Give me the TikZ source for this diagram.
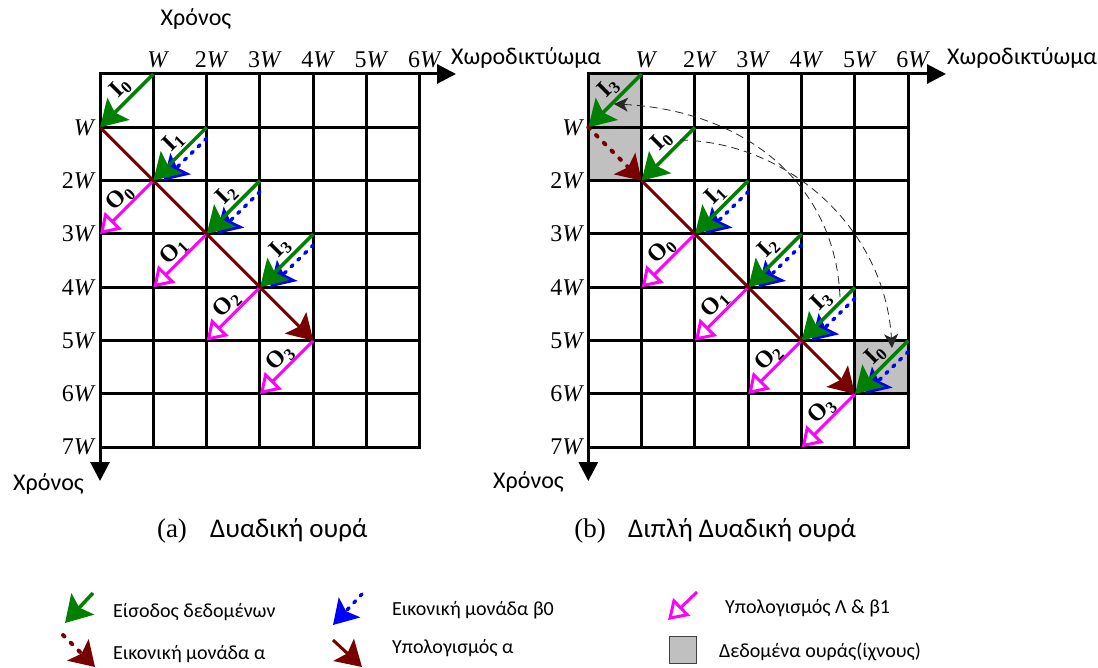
\documentclass[tikz,border=0pt]{standalone}
\usepackage{fontspec}
\setmainfont{Liberation Serif}
\newfontfamily\grfont{Carlito}
\usetikzlibrary{arrows.meta}

\definecolor{ingreen}{RGB}{0,128,0}
\definecolor{maroonA}{RGB}{122,0,0}
\definecolor{magentaO}{RGB}{255,0,255}
\definecolor{blueB}{RGB}{0,0,255}
\definecolor{tailgray}{RGB}{192,192,192}

% multiples of W on the axes
\newcommand\wlab[1]{\ifnum#1=1 \else#1\fi\textit{W}}

\tikzset{
  gridline/.style={line width=3pt, line cap=rect},
  axisline/.style={line width=3pt, line join=miter,
    {Triangle[length=19pt,width=19pt]}-{Triangle[length=19pt,width=19pt]}},
  inarrow/.style={ingreen, line width=3.5pt,
    -{Stealth[length=26pt,width=31pt,inset=5pt]}},
  dummyb/.style={blueB, line width=3.5pt, line cap=round, dash pattern=on 2.5pt off 7pt,
    -{Stealth[length=24pt,width=29pt,inset=5pt]}},
  dummya/.style={maroonA, line width=4pt, line cap=round, dash pattern=on 2pt off 9pt,
    -{Stealth[length=24pt,width=30pt,inset=5pt]}},
  comparrow/.style={maroonA, line width=3pt,
    -{Stealth[length=25pt,width=30pt,inset=5pt]}},
  outarrow/.style={magentaO, line width=3pt,
    -{Triangle[open,length=19pt,width=24pt]}},
  trace/.style={black!85, line width=0.8pt, dash pattern=on 8pt off 5pt,
    -{Stealth[length=14pt,width=14pt,inset=4pt]}},
  axlab/.style={inner sep=0pt, font=\fontsize{24}{24}\selectfont},
  axtitle/.style={inner sep=0pt, font=\grfont\fontsize{24}{24}\selectfont},
  arrlab/.style={inner sep=0pt, rotate=45, font=\fontsize{24}{24}\selectfont\bfseries},
  legtext/.style={inner sep=0pt, anchor=base west, font=\grfont\fontsize{20}{20}\selectfont},
  captl/.style={inner sep=0pt, anchor=base, font=\fontsize{27}{27}\selectfont},
  capt/.style={inner sep=0pt, anchor=base west, font=\grfont\fontsize{27}{27}\selectfont},
}

\begin{document}
\begin{tikzpicture}[x=1pt,y=-1pt]
\useasboundingbox[fill=white] (0,0) rectangle (1098,668);

% lattice points of both grids
\foreach \i in {0,...,6} \foreach \j in {0,...,7} {
  \coordinate (A-\i-\j) at ({100+53.33*\i},{74+53.33*\j});
  \coordinate (B-\i-\j) at ({588.3+53.33*\i},{74+53.33*\j});
}
\coordinate (A-xend) at (456,74);
\coordinate (A-yend) at (100,481);
\coordinate (B-xend) at (946,74);
\coordinate (B-yend) at (588.3,481);

% tail (trace) cells of the double queue
\fill[tailgray] (B-0-0) rectangle (B-1-2);
\fill[tailgray] (B-5-5) rectangle (B-6-6);

% grids, axes and axis labels
\foreach \g in {A,B} {
  \foreach \i in {1,...,6} \draw[gridline] (\g-\i-0) -- (\g-\i-7);
  \foreach \j in {1,...,7} \draw[gridline] (\g-0-\j) -- (\g-6-\j);
  \draw[axisline] (\g-yend) -- (\g-0-0) -- (\g-xend);
  \foreach \i in {1,...,6}
    \node[axlab, anchor=base] (\g-col-\i) at ([xshift=5pt,yshift=6pt]\g-\i-0) {\wlab{\i}};
  \foreach \j in {1,...,7}
    \node[axlab, anchor=east] (\g-row-\j) at ([xshift=-4pt]\g-0-\j) {\wlab{\j}};
}

\node[axtitle, anchor=base] (A-ttop) at (196,26) {Χρόνος};
\node[axtitle, anchor=base west] (A-space) at (451,65) {Χωροδικτύωμα};
\node[axtitle, anchor=base east] (A-time) at (84,490) {Χρόνος};
\node[axtitle, anchor=base west] (B-space) at (947,65) {Χωροδικτύωμα};
\node[axtitle, anchor=base east] (B-time) at (564,488) {Χρόνος};

% ---------- (a) binary queue ----------
\draw[outarrow] (A-1-2) -- (A-0-3);
\draw[outarrow] (A-2-3) -- (A-1-4);
\draw[outarrow] (A-3-4) -- (A-2-5);
\draw[outarrow] (A-4-5) -- (A-3-6);
\draw[dummyb] ([yshift=-11pt]A-2-1) -- ([xshift=10pt]A-1-2);
\draw[dummyb] ([yshift=-11pt]A-3-2) -- ([xshift=10pt]A-2-3);
\draw[dummyb] ([yshift=-11pt]A-4-3) -- ([xshift=10pt]A-3-4);
\draw[inarrow] (A-1-0) -- (A-0-1);
\draw[inarrow] (A-2-1) -- (A-1-2);
\draw[inarrow] (A-3-2) -- (A-2-3);
\draw[inarrow] (A-4-3) -- (A-3-4);
\draw[comparrow] (A-0-1) -- (A-4-5);

\node[arrlab] (A-I0) at ([xshift=-33pt,yshift=-14pt]A-1-0) {I\textsubscript{0}};
\node[arrlab] (A-I1) at ([xshift=-33pt,yshift=-14pt]A-2-1) {I\textsubscript{1}};
\node[arrlab] (A-I2) at ([xshift=-33pt,yshift=-14pt]A-3-2) {I\textsubscript{2}};
\node[arrlab] (A-I3) at ([xshift=-33pt,yshift=-14pt]A-4-3) {I\textsubscript{3}};
\node[arrlab] (A-O0) at ([xshift=-33pt,yshift=-17pt]A-1-2) {O\textsubscript{0}};
\node[arrlab] (A-O1) at ([xshift=-33pt,yshift=-17pt]A-2-3) {O\textsubscript{1}};
\node[arrlab] (A-O2) at ([xshift=-33pt,yshift=-17pt]A-3-4) {O\textsubscript{2}};
\node[arrlab] (A-O3) at ([xshift=-33pt,yshift=-17pt]A-4-5) {O\textsubscript{3}};

% ---------- (b) double binary queue ----------
\draw[outarrow] (B-2-3) -- (B-1-4);
\draw[outarrow] (B-3-4) -- (B-2-5);
\draw[outarrow] (B-4-5) -- (B-3-6);
\draw[outarrow] (B-5-6) -- (B-4-7);
\draw[dummyb] ([yshift=-11pt]B-3-2) -- ([xshift=10pt]B-2-3);
\draw[dummyb] ([yshift=-11pt]B-4-3) -- ([xshift=10pt]B-3-4);
\draw[dummyb] ([yshift=-11pt]B-5-4) -- ([xshift=10pt]B-4-5);
\draw[dummyb] ([yshift=-11pt]B-6-5) -- ([xshift=10pt]B-5-6);
\draw[inarrow] (B-1-0) -- (B-0-1);
\draw[inarrow] (B-2-1) -- (B-1-2);
\draw[inarrow] (B-3-2) -- (B-2-3);
\draw[inarrow] (B-4-3) -- (B-3-4);
\draw[inarrow] (B-5-4) -- (B-4-5);
\draw[inarrow] (B-6-5) -- (B-5-6);
\draw[dummya] (B-0-1) -- (B-1-2);
\draw[comparrow] (B-1-2) -- (B-5-6);

\node[arrlab] (B-I3t) at ([xshift=-33pt,yshift=-14pt]B-1-0) {I\textsubscript{3}};
\node[arrlab] (B-I0t) at ([xshift=-33pt,yshift=-14pt]B-2-1) {I\textsubscript{0}};
\node[arrlab] (B-I1)  at ([xshift=-33pt,yshift=-14pt]B-3-2) {I\textsubscript{1}};
\node[arrlab] (B-I2)  at ([xshift=-33pt,yshift=-14pt]B-4-3) {I\textsubscript{2}};
\node[arrlab] (B-I3)  at ([xshift=-33pt,yshift=-14pt]B-5-4) {I\textsubscript{3}};
\node[arrlab] (B-I0)  at ([xshift=-33pt,yshift=-14pt]B-6-5) {I\textsubscript{0}};
\node[arrlab] (B-O0) at ([xshift=-33pt,yshift=-17pt]B-2-3) {O\textsubscript{0}};
\node[arrlab] (B-O1) at ([xshift=-33pt,yshift=-17pt]B-3-4) {O\textsubscript{1}};
\node[arrlab] (B-O2) at ([xshift=-33pt,yshift=-17pt]B-4-5) {O\textsubscript{2}};
\node[arrlab] (B-O3) at ([xshift=-33pt,yshift=-17pt]B-5-6) {O\textsubscript{3}};

% wrap-around moves of the queue head and tail
\coordinate (trA-s) at (840,297);
\coordinate (trA-e) at (614,104);
\draw[trace] (trA-s) .. controls (835,180) and (740,110) .. (trA-e);
\coordinate (trB-s) at (680,140);
\coordinate (trB-e) at (892,348);
\draw[trace] (trB-s) .. controls (790,142) and (885,230) .. (trB-e);

% captions
\node[captl] (capA-l) at (172,537) {(a)};
\node[capt] (capA-t) at (210,537) {Δυαδική ουρά};
\node[captl] (capB-l) at (590,537) {(b)};
\node[capt] (capB-t) at (628,537) {Διπλή Δυαδική ουρά};

% legend
\coordinate (L-in-s) at (93,593);  \coordinate (L-in-e) at (65,623);
\coordinate (L-da-s) at (63,635);  \coordinate (L-da-e) at (95,667);
\coordinate (L-db-s) at (362,594); \coordinate (L-db-e) at (333,625);
\coordinate (L-ca-s) at (333,640); \coordinate (L-ca-e) at (362,667);
\coordinate (L-cl-s) at (697,592); \coordinate (L-cl-e) at (668,620);
\draw[inarrow] (L-in-s) -- (L-in-e);
\draw[dummya] (L-da-s) -- (L-da-e);
\draw[dummyb] (L-db-s) -- (L-db-e);
\draw[comparrow] (L-ca-s) -- (L-ca-e);
\draw[outarrow] (L-cl-s) -- (L-cl-e);
\node[draw=black!75, fill=tailgray, line width=1pt, minimum width=27pt,
      minimum height=27pt, inner sep=0pt] (L-tr-box) at (683,649.5) {};

\node[legtext] (L-in-t) at (113,617) {Είσοδος δεδομένων};
\node[legtext] (L-da-t) at (113,659) {Εικονική μονάδα α};
\node[legtext] (L-db-t) at (392,615) {Εικονική μονάδα β0};
\node[legtext] (L-ca-t) at (392,653) {Υπολογισμός α};
\node[legtext] (L-cl-t) at (725,613) {Υπολογισμός Λ \& β1};
\node[legtext] (L-tr-t) at (719,657) {Δεδομένα ουράς(ίχνους)};
\end{tikzpicture}
\end{document}
